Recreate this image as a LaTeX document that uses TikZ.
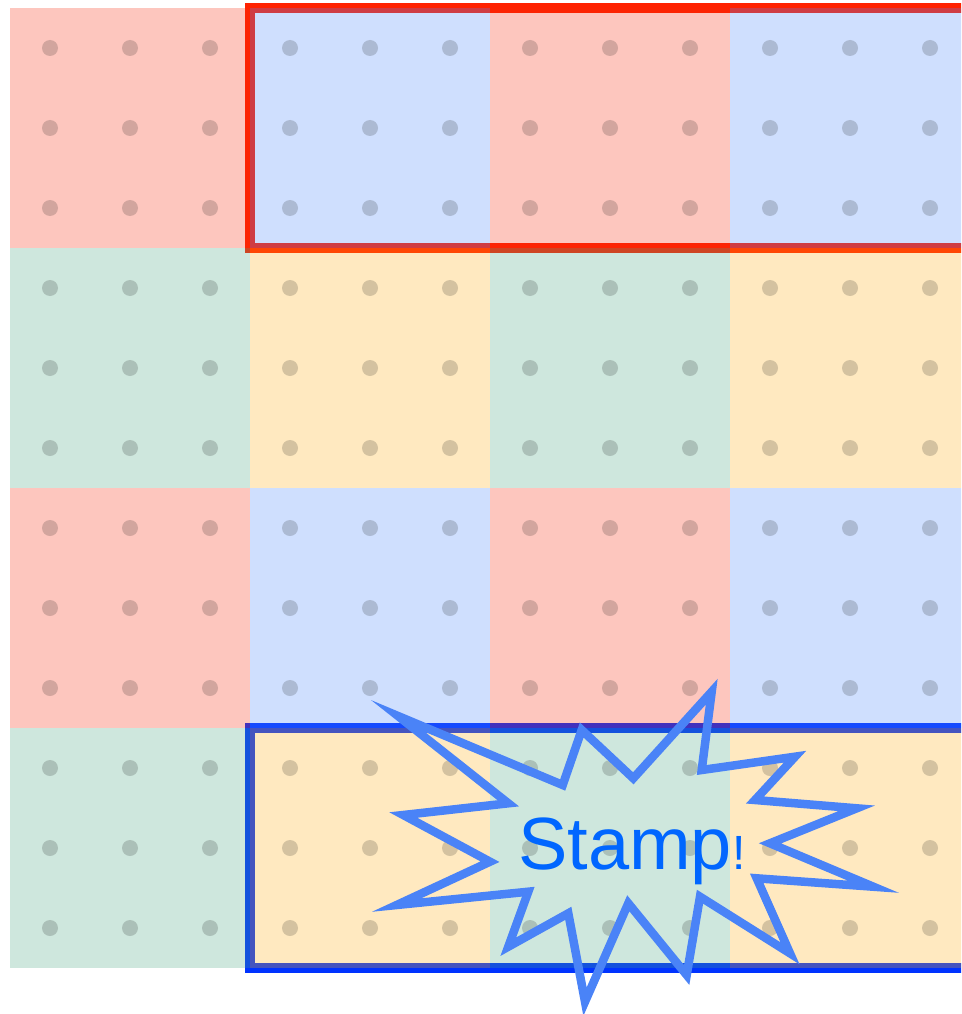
\documentclass[tikz,border=0pt]{standalone}
\usepackage{fontspec}
\setmainfont{Liberation Sans}
\usetikzlibrary{positioning}
\definecolor{cellred}{HTML}{F72C0E}
\definecolor{cellblue}{HTML}{4E89FC}
\definecolor{cellgreen}{HTML}{4AA782}
\definecolor{cellyellow}{HTML}{FFAE16}
\definecolor{framered}{HTML}{FF2200}
\definecolor{frameblue}{HTML}{0033FF}
\definecolor{burst}{HTML}{4A83F7}
\definecolor{stampink}{HTML}{0066FF}
\tikzset{
  cell/.style={fill=#1,fill opacity=0.27,draw=none},
  peg/.style={fill=black,fill opacity=0.17,draw=none},
  band/.style={draw=#1,line width=10pt,line join=miter},
  burstline/.style={draw=burst,line width=8.5pt,line join=miter,miter limit=20},
  stamptxt/.style={text=stampink,inner sep=0pt,anchor=base west},
}
\begin{document}
\begin{tikzpicture}[x=1pt,y=-1pt]
  \useasboundingbox (0,0) rectangle (961,1014);
  \clip (0,0) rectangle (961,1014);
  % frames go under the see-through cells
  \draw[band=framered] (250,8) rectangle (1000,248);
  \draw[band=frameblue] (250,728) rectangle (1000,968);
  \foreach \r/\a/\b in {0/cellred/cellblue,1/cellgreen/cellyellow,2/cellred/cellblue,3/cellgreen/cellyellow}{
    \foreach \c/\col in {0/\a,1/\b,2/\a,3/\b}{
      \fill[cell=\col] (10+240*\c,8+240*\r) rectangle ++(240,240);
      \foreach \i in {0,1,2}
        \foreach \j in {0,1,2}
          \fill[peg] (50+240*\c+80*\i,48+240*\r+80*\j) circle (8pt);
    }
  }
  % stamp
  \draw[burstline] (398,716) -- (562.7,785) -- (581.7,730) -- (633.3,778.3) -- (711.7,691.7)
    -- (701.7,770) -- (795,756.7) -- (755,800) -- (856.7,808.3) -- (770,843.3)
    -- (873.3,886.7) -- (756.7,878.3) -- (790,953.3) -- (700,896.7) -- (686.7,975)
    -- (628.3,903.3) -- (585,1001.7) -- (568.3,913.3) -- (508.3,946.7) -- (528.3,891.7)
    -- (396.7,905) -- (490,861.7) -- (403.3,815) -- (508.3,803.3) -- cycle;
  \node[stamptxt] (stamp) at (518,869) {\fontsize{74}{80}\selectfont Stamp\fontsize{48}{50}\selectfont !};
\end{tikzpicture}
\end{document}
